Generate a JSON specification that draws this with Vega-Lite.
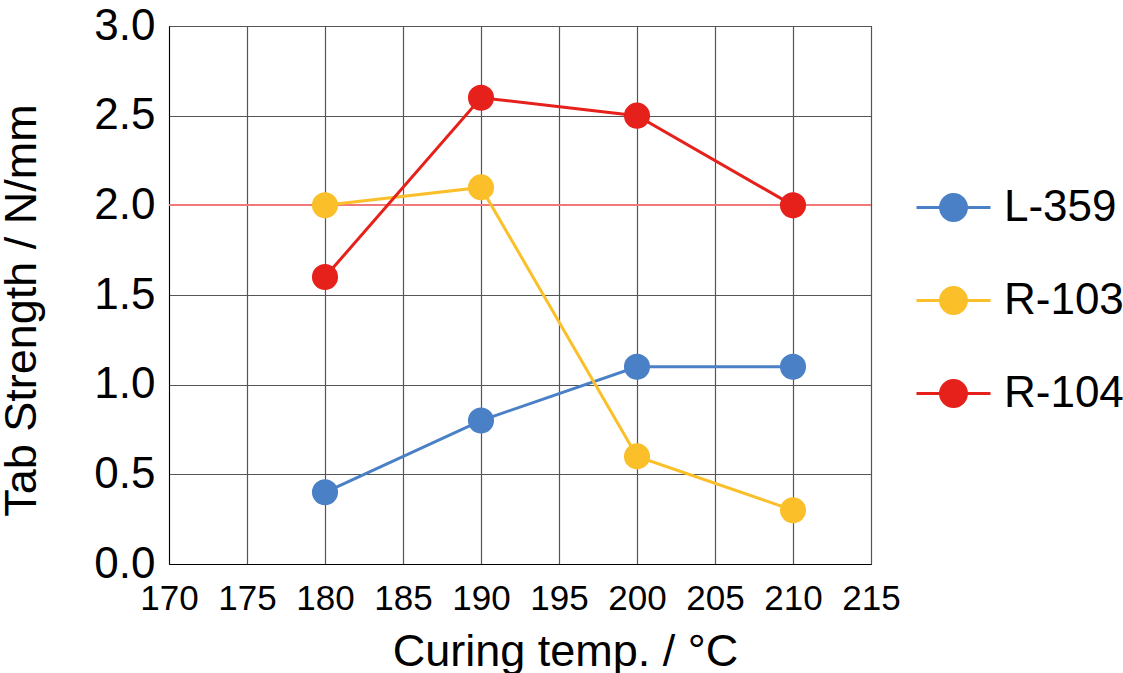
{
  "$schema": "https://vega.github.io/schema/vega-lite/v6.json",
  "width": 702,
  "height": 538,
  "autosize": "none",
  "padding": {"left": 169, "top": 26, "right": 252, "bottom": 109},
  "background": "white",
  "config": {
    "view": {"stroke": "#000", "strokeWidth": 1},
    "font": "Liberation Sans"
  },
  "data": {
    "values": [
      {"temp": 180, "strength": 0.4, "series": "L-359"},
      {"temp": 190, "strength": 0.8, "series": "L-359"},
      {"temp": 200, "strength": 1.1, "series": "L-359"},
      {"temp": 210, "strength": 1.1, "series": "L-359"},
      {"temp": 180, "strength": 2.0, "series": "R-103"},
      {"temp": 190, "strength": 2.1, "series": "R-103"},
      {"temp": 200, "strength": 0.6, "series": "R-103"},
      {"temp": 210, "strength": 0.3, "series": "R-103"},
      {"temp": 180, "strength": 1.6, "series": "R-104"},
      {"temp": 190, "strength": 2.6, "series": "R-104"},
      {"temp": 200, "strength": 2.5, "series": "R-104"},
      {"temp": 210, "strength": 2.0, "series": "R-104"}
    ]
  },
  "encoding": {
    "x": {
      "field": "temp", "type": "quantitative",
      "scale": {"domain": [170, 215], "nice": false, "zero": false},
      "axis": {
        "title": "Curing temp. / °C",
        "values": [170, 175, 180, 185, 190, 195, 200, 205, 210, 215],
        "labelFontSize": 35, "labelColor": "#000", "labelOverlap": false, "labelFlush": false,
        "labelPadding": 17, "ticks": false, "domainColor": "#000",
        "gridColor": "#555", "gridWidth": 1.2, "grid": true,
        "titleFontSize": 45, "titleFontWeight": "normal", "titleColor": "#000",
        "titleBaseline": "alphabetic",
        "titleX": 396, "titleY": 101
      }
    },
    "y": {
      "field": "strength", "type": "quantitative",
      "scale": {"domain": [0, 3], "nice": false},
      "axis": {
        "title": "Tab Strength / N/mm",
        "values": [0, 0.5, 1, 1.5, 2, 2.5, 3],
        "format": ".1f",
        "labelFontSize": 44, "labelColor": "#000", "labelPadding": 14, "labelOverlap": false,
        "ticks": false, "domainColor": "#000",
        "gridColor": "#555", "gridWidth": 1.2,
        "titleFontSize": 45, "titleFontWeight": "normal", "titleColor": "#000",
        "titleBaseline": "alphabetic",
        "titleX": -134, "titleY": 284
      }
    },
    "color": {
      "field": "series", "type": "nominal",
      "scale": {"domain": ["L-359", "R-103", "R-104"], "range": ["#4a80c6", "#fbbf2a", "#e6201a"]},
      "legend": {
        "title": null,
        "orient": "none", "legendX": 746, "legendY": 143,
        "symbolType": "M-1,0H-0.35A0.35,0.35 0 1,1 0.35,0H1M0.35,0A0.35,0.35 0 1,1 -0.35,0",
        "symbolSize": 5476, "symbolStrokeWidth": 3,
        "labelFontSize": 44, "labelColor": "#000", "labelOffset": 12,
        "rowPadding": 32, "symbolOpacity": 1,
        "encode": {
          "symbols": {
            "update": {
              "fill": {"scale": "color", "field": "value"},
              "stroke": {"scale": "color", "field": "value"},
              "fillOpacity": {"value": 1},
              "strokeWidth": {"value": 3}
            }
          }
        }
      }
    }
  },
  "layer": [
    {
      "mark": {"type": "rule", "color": "#f07a7a", "strokeWidth": 1.5},
      "encoding": {"y": {"datum": 2}, "x": null, "color": null}
    },
    {
      "mark": {"type": "line", "strokeWidth": 3}
    },
    {
      "mark": {"type": "point", "filled": true, "size": 680, "opacity": 1}
    }
  ]
}
